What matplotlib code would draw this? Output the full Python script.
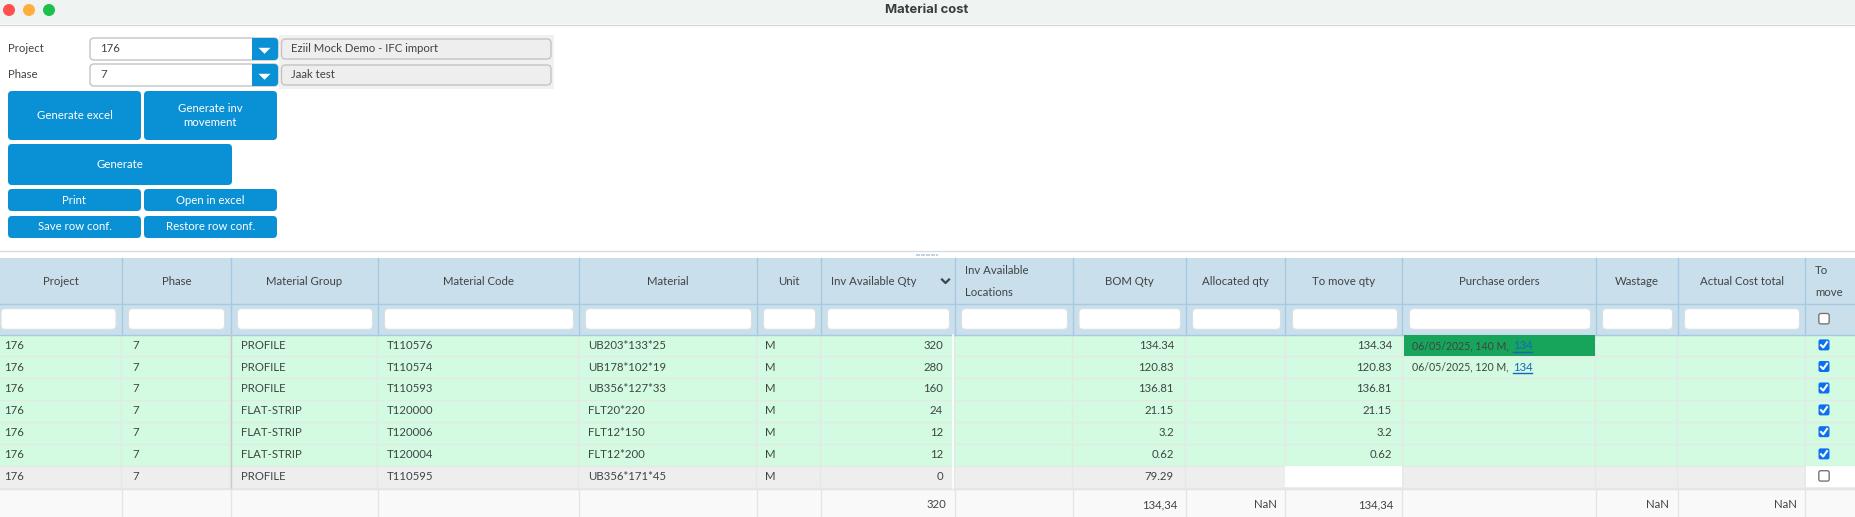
import matplotlib

matplotlib.use("Agg")
import matplotlib.pyplot as plt
from matplotlib.patches import Circle, FancyBboxPatch, Rectangle

# Datos de la tabla
headers = ["Project", "Phase", "Material Group", "Material Code", "Material", "Unit",
           "Inv Available Qty", "Inv Available\nLocations", "BOM Qty", "Allocated qty",
           "To move qty", "Purchase orders", "Wastage", "Actual Cost total", "To\nmove"]
projects = ["176"] * 7
phases = ["7"] * 7
groups = ["PROFILE", "PROFILE", "PROFILE", "FLAT-STRIP", "FLAT-STRIP", "FLAT-STRIP", "PROFILE"]
codes = ["T110576", "T110574", "T110593", "T120000", "T120006", "T120004", "T110595"]
materials = ["UB203*133*25", "UB178*102*19", "UB356*127*33", "FLT20*220", "FLT12*150",
             "FLT12*200", "UB356*171*45"]
units = ["M"] * 7
inv_qty = ["320", "280", "160", "24", "12", "12", "0"]
bom_qty = ["134.34", "120.83", "136.81", "21.15", "3.2", "0.62", "79.29"]
move_qty = ["134.34", "120.83", "136.81", "21.15", "3.2", "0.62", ""]
orders = ["06/05/2025, 140 M,", "06/05/2025, 120 M,", "", "", "", "", ""]
order_links = ["134", "134", "", "", "", "", ""]
checked = [True, True, True, True, True, True, False]
footer = {6: "320", 8: "134,34", 9: "NaN", 10: "134,34", 12: "NaN", 13: "NaN"}

# Geometria (pixeles)
col_x = [0, 122, 231, 378, 579, 757, 821, 955, 1073, 1186, 1285.5, 1402.5,
         1596, 1678, 1805.5, 1856]
row_y = [334.5, 356, 377.5, 399.5, 421.5, 443.5, 465.5, 487.5]
row_text_y = [345.6, 367.2, 388.7, 410.6, 432.4, 454.6, 476.6]
filter_boxes = [(1, 116), (128.5, 224.5), (237.5, 372.5), (384.5, 573.5), (585.5, 751.5),
                (763.5, 815.5), (827.5, 949.5), (961.5, 1067.5), (1079, 1180.5), (1192.5, 1280.5),
                (1292.5, 1397.5), (1409.5, 1590.5), (1602.5, 1672.5), (1684.5, 1799.5)]

BLUE = "#0a90d4"
TEXT = "#404444"
FONT = "Lato"
SIZE = 8.2
ARROW = [(-1, 0.45), (1, 0.45), (0, -0.55)]


def box(ax, x0, y0, x1, y1, color, edge="none", r=4, lw=1, z=2):
    ax.add_patch(FancyBboxPatch((x0, y0), x1 - x0, y1 - y0, boxstyle=f"round,pad=0,rounding_size={r}",
                                fc=color, ec=edge, lw=lw, zorder=z))


def rect(ax, x0, y0, x1, y1, color, z=1):
    ax.add_patch(Rectangle((x0, y0), x1 - x0, y1 - y0, fc=color, ec="none", zorder=z))


def label(ax, x, y, s, ha="left", color=TEXT, size=SIZE, **kw):
    return ax.text(x, y, s, ha=ha, va="center", color=color, fontsize=size, family=FONT, zorder=6, **kw)


def button(ax, x0, y0, x1, y1, s):
    box(ax, x0, y0, x1, y1, BLUE)
    label(ax, (x0 + x1) / 2, (y0 + y1) / 2, s, ha="center", color="white", linespacing=1.3)


def checkbox(ax, y, on):
    x = 1824
    if on:
        box(ax, x - 5.5, y - 5.5, x + 5.5, y + 5.5, "#0a6ff2", r=2, z=5)
        ax.plot([x - 3, x - 0.8, x + 3], [y + 0.3, y + 2.6, y - 2.8], color="white", lw=1.5, zorder=6)
    else:
        box(ax, x - 5.2, y - 5.2, x + 5.2, y + 5.2, "white", edge="#767676", r=2, z=5)


def main():
    fig = plt.figure(figsize=(18.56, 5.17), dpi=100)
    ax = fig.add_axes([0, 0, 1, 1])
    ax.set_xlim(0, 1856)
    ax.set_ylim(517, 0)
    ax.axis("off")

    # Barra de titulo
    rect(ax, 0, 0, 1856, 24, "#eff3f2")
    ax.plot([0, 1856], [24.5, 24.5], color="#d5d8d8", lw=1)
    for cx, c in zip([9, 29, 49], ["#ff5050", "#ffae3c", "#1cc04a"]):
        ax.add_patch(Circle((cx, 10), 6, fc=c, ec="none", zorder=3))
    ax.text(927, 10, "Material cost", ha="center", va="center", fontsize=9.4, fontweight="bold",
            color="#3a3d3d", family="Inter")

    # Selectores
    rect(ax, 279, 35, 554, 89, "#f1f1f1")
    for y0, y1, name, val, desc in [(38, 60, "Project", "176", "Eziil Mock Demo - IFC import"),
                                    (64, 86, "Phase", "7", "Jaak test")]:
        ym = (y0 + y1) / 2
        label(ax, 8, ym, name)
        box(ax, 90, y0, 278, y1, "white", edge="#c4c4c4", z=2)
        box(ax, 252, y0, 278, y1, BLUE, z=3)
        rect(ax, 252, y0, 258, y1, BLUE, z=3)
        ax.scatter([264.5], [ym + 0.5], marker=ARROW, s=75, color="white", zorder=4, linewidths=0)
        label(ax, 100, ym, val)
        box(ax, 281.5, y0 + 1, 551, y1 - 1, "#eeeeee", edge="#c4c4c4", z=2)
        label(ax, 291, ym, desc)

    # Botones
    button(ax, 8, 91, 141, 140, "Generate excel")
    button(ax, 144, 91, 277, 140, "Generate inv\nmovement")
    button(ax, 8, 144, 232, 185, "Generate")
    button(ax, 8, 189, 141, 211, "Print")
    button(ax, 144, 189, 277, 211, "Open in excel")
    button(ax, 8, 216, 141, 238, "Save row conf.")
    button(ax, 144, 216, 277, 238, "Restore row conf.")

    # Separador
    ax.plot([0, 1856], [250.5, 250.5], color="#d9dcdc", lw=1)
    ax.scatter([917 + 2.5 * i for i in range(9)], [255] * 9, marker="s", s=2, color="#c3d3de",
               linewidths=0)

    # Cabecera y filtros
    rect(ax, 0, 258, 1856, 334.5, "#cadfec")
    ax.plot([0, 1856], [304, 304], color="#a6cae0", lw=1, zorder=3)
    ax.plot([0, 1856], [334.5, 334.5], color="#a6cae0", lw=1, zorder=3)
    for x in col_x[1:-1]:
        ax.plot([x, x], [258, 334.5], color="#a6cae0", lw=1, zorder=3)
    for i, h in enumerate(headers):
        x0, x1 = col_x[i], col_x[i + 1]
        if i == 6:
            label(ax, 831, 281.5, h)
            ax.plot([942, 945.5, 949], [279.5, 283, 279.5], color="#3f4444", lw=1.6, zorder=6)
        elif i == 7:
            label(ax, 965, 270.5, "Inv Available")
            label(ax, 965, 292.5, "Locations")
        elif i == 14:
            label(ax, 1815, 270.5, "To")
            label(ax, 1815, 292.5, "move")
        else:
            label(ax, (x0 + x1) / 2, 281.5, h, ha="center")
    for x0, x1 in filter_boxes:
        box(ax, x0, 308.7, x1, 329.3, "white", edge="#d8e0e4", r=4, lw=0.8, z=4)
    checkbox(ax, 318.7, False)

    # Filas
    for i in range(7):
        y0, y1 = row_y[i], row_y[i + 1]
        yt = row_text_y[i]
        rect(ax, 0, y0, 1856, y1, "#d2fbe1" if checked[i] else "#eeeeee")
        ax.plot([0, 1856], [y1, y1], color="#e4e8e6", lw=1, zorder=2)
        label(ax, 4.5, yt, projects[i])
        label(ax, 132, yt, phases[i])
        label(ax, 241, yt, groups[i])
        label(ax, 387, yt, codes[i])
        label(ax, 588.5, yt, materials[i])
        label(ax, 765.5, yt, units[i])
        label(ax, 943, yt, inv_qty[i], ha="right")
        label(ax, 1174, yt, bom_qty[i], ha="right")
        label(ax, 1392, yt, move_qty[i], ha="right")
        if orders[i]:
            if i == 0:
                rect(ax, 1404, y0 + 0.5, 1595, y1, "#16a55b", z=3)
            label(ax, 1412, yt, orders[i], size=7.6)
            label(ax, 1513.5, yt, order_links[i], color="#1566c0")
            ax.plot([1513.5, 1532], [yt + 6, yt + 6], color="#1566c0", lw=1, zorder=6)
        checkbox(ax, yt - 0.7, checked[i])

    # Celdas blancas de la ultima fila
    rect(ax, 1285, 466, 1402, 487, "white", z=3)
    rect(ax, 1806, 466, 1856, 487, "white", z=3)
    for x in col_x[1:-1]:
        ax.plot([x - 0.5, x - 0.5], [334.5, 487.5], color="#e4e8e6", lw=1, zorder=2)
    ax.plot([231, 231], [334.5, 488], color="#c9cccb", lw=1, zorder=3)
    ax.plot([953, 953], [334.5, 489], color="white", lw=1.2, zorder=3)

    # Pie
    rect(ax, 0, 489, 1856, 517, "#f9f9f9")
    ax.plot([0, 1856], [489, 489], color="#e2e4e4", lw=1, zorder=3)
    for x in col_x[1:-1]:
        ax.plot([x, x], [489, 517], color="#e4e6e6", lw=1, zorder=3)
    for i, s in footer.items():
        label(ax, col_x[i + 1] - 9, 504.5, s, ha="right")

    fig.savefig("out.png", dpi=100, facecolor="white")
    plt.close(fig)


if __name__ == "__main__":
    main()
